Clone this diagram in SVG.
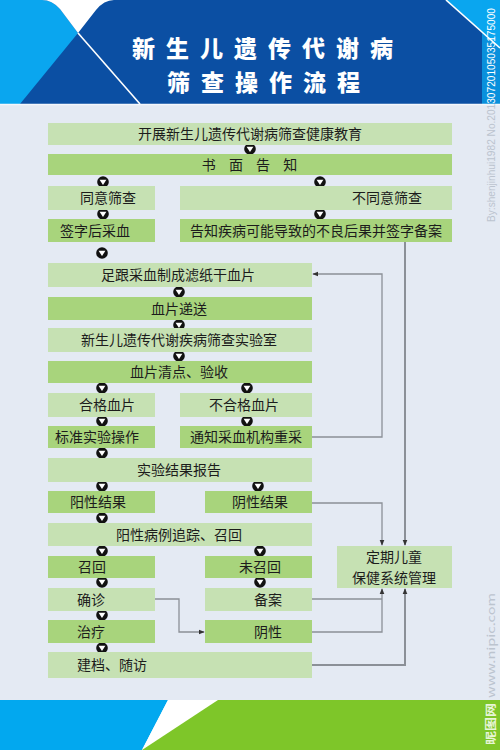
<svg xmlns="http://www.w3.org/2000/svg" xmlns:xlink="http://www.w3.org/1999/xlink" width="500" height="750" viewBox="0 0 500 750">
<style>
.lt{fill:#c6e1b3}
.dk{fill:#a8d47c}
.t{font-family:"Noto Sans CJK SC","Noto Sans",sans-serif;font-size:14px;fill:#1c1c1c;text-anchor:middle}
.ttl{font-family:"Noto Sans CJK SC","Noto Sans",sans-serif;font-size:23px;font-weight:900;fill:#ffffff;text-anchor:middle;letter-spacing:11px}
.ln{fill:none;stroke:#8b9097;stroke-width:1.3}
.lnw{fill:none;stroke:#8b9097;stroke-width:2}
.wm{font-family:"Liberation Sans","DejaVu Sans",sans-serif;font-size:10px}
</style>
<defs>
<g id="dn"><circle r="5.8" fill="#111"/><path d="M-3.4,-2.2 L3.4,-2.2 L0,3.1 Z" fill="#fff"/></g>
<marker id="ah" viewBox="0 0 8 8" refX="7" refY="4" markerWidth="6" markerHeight="6" markerUnits="userSpaceOnUse" orient="auto"><path d="M0,0.8 L8,4 L0,7.2 Z" fill="#333"/></marker>
<clipPath id="top"><rect x="0" y="0" width="500" height="104"/></clipPath>
<clipPath id="mid"><rect x="0" y="104" width="500" height="596"/></clipPath>
<clipPath id="bot"><rect x="0" y="700" width="500" height="50"/></clipPath>
</defs>

<!-- header -->
<g id="header">
<rect x="0" y="0" width="500" height="104" fill="#0b4fa3"/>
<path d="M0,0 H42 Q52,0 60,9 L78,33 L20,104 H0 Z" fill="#0aa6ef"/>
<path d="M42,0 Q52,0 60,9 L78,33 L96,10 Q104,0 114,0 Z" fill="#ffffff"/>
<line x1="78" y1="33" x2="140" y2="104" stroke="#ffffff" stroke-width="1.6"/>
<path d="M446,0 H500 V48 Z" fill="#0aa6ef"/>
<rect x="482" y="0" width="18" height="104" fill="#0aa6ef" opacity="0.75"/>
<line x1="446" y1="0" x2="500" y2="48" stroke="#ffffff" stroke-width="1.6"/>
<text class="ttl" x="268" y="56.5">新生儿遗传代谢病</text>
<text class="ttl" x="269" y="90.5">筛查操作流程</text>
</g>

<!-- body -->
<rect x="0" y="104" width="500" height="596" fill="#e4eaf3"/>
<line x1="0" y1="104.5" x2="500" y2="104.5" stroke="#f4f7fb" stroke-width="1.5"/>

<!-- footer -->
<g id="footer">
<path d="M0,700 H168 L142,750 H0 Z" fill="#02a8ef"/>
<path d="M168,700 H218 L142,750 Z" fill="#ffffff"/>
<path d="M218,700 H500 V750 H142 Z" fill="#7ec629"/>
</g>

<!-- connectors -->
<g id="connectors">
<path class="ln" d="M312,437 H382 V274 H313" marker-end="url(#ah)"/>
<path class="lnw" d="M405,242 V545" marker-end="url(#ah)"/>
<path class="ln" d="M312,503 H382 V545" marker-end="url(#ah)"/>
<path class="ln" d="M312,599 H382"/>
<path class="ln" d="M312,632 H382 V589" marker-end="url(#ah)"/>
<path class="lnw" d="M312,665 H405 V589" marker-end="url(#ah)"/>
<path class="ln" d="M155,599 H179 V632 H204" marker-end="url(#ah)"/>
<g id="flow-arrows">
<use xlink:href="#dn" x="250" y="149"/>
<use xlink:href="#dn" x="103" y="182"/>
<use xlink:href="#dn" x="320" y="182"/>
<use xlink:href="#dn" x="103" y="214"/>
<use xlink:href="#dn" x="320" y="214"/>
<use xlink:href="#dn" x="102" y="253"/>
<use xlink:href="#dn" x="179" y="292"/>
<use xlink:href="#dn" x="179" y="325"/>
<use xlink:href="#dn" x="179" y="356"/>
<use xlink:href="#dn" x="102" y="388"/>
<use xlink:href="#dn" x="247" y="388"/>
<use xlink:href="#dn" x="102" y="421"/>
<use xlink:href="#dn" x="247" y="421"/>
<use xlink:href="#dn" x="102" y="453"/>
<use xlink:href="#dn" x="102" y="486"/>
<use xlink:href="#dn" x="258" y="486"/>
<use xlink:href="#dn" x="102" y="518"/>
<use xlink:href="#dn" x="102" y="551"/>
<use xlink:href="#dn" x="260" y="551"/>
<use xlink:href="#dn" x="102" y="582"/>
<use xlink:href="#dn" x="260" y="582"/>
<use xlink:href="#dn" x="102" y="615"/>
<use xlink:href="#dn" x="102" y="648"/>
</g>
</g>

<!-- nodes -->
<g id="n1"><rect class="lt" x="48" y="123" width="404" height="22"/><text class="t" x="250" y="139">开展新生儿遗传代谢病筛查健康教育</text></g>
<g id="n2"><rect class="dk" x="48" y="154" width="404" height="21"/><text class="t" x="252" y="170" style="letter-spacing:5px">书 面 告 知</text></g>
<g id="n3"><rect class="lt" x="48" y="186" width="107" height="24"/><text class="t" x="108" y="203">同意筛查</text></g>
<g id="n4"><rect class="lt" x="180" y="186" width="272" height="24"/><text class="t" x="387" y="203">不同意筛查</text></g>
<g id="n5"><rect class="dk" x="48" y="219" width="107" height="23"/><text class="t" x="95" y="235.5">签字后采血</text></g>
<g id="n6"><rect class="dk" x="180" y="219" width="272" height="23"/><text class="t" x="316" y="235.5">告知疾病可能导致的不良后果并签字备案</text></g>
<g id="n7"><rect class="lt" x="48" y="263" width="264" height="24"/><text class="t" x="178" y="280">足跟采血制成滤纸干血片</text></g>
<g id="n8"><rect class="dk" x="48" y="297" width="264" height="23"/><text class="t" x="179" y="313.5">血片递送</text></g>
<g id="n9"><rect class="lt" x="48" y="328" width="264" height="24"/><text class="t" x="179" y="345">新生儿遗传代谢疾病筛查实验室</text></g>
<g id="n10"><rect class="dk" x="48" y="361" width="264" height="22"/><text class="t" x="179" y="377">血片清点、验收</text></g>
<g id="n11"><rect class="lt" x="48" y="393" width="107" height="24"/><text class="t" x="107" y="410">合格血片</text></g>
<g id="n12"><rect class="lt" x="180" y="393" width="132" height="24"/><text class="t" x="244" y="410">不合格血片</text></g>
<g id="n13"><rect class="dk" x="48" y="426" width="107" height="22"/><text class="t" x="97" y="442">标准实验操作</text></g>
<g id="n14"><rect class="dk" x="180" y="426" width="132" height="22"/><text class="t" x="246" y="442">通知采血机构重采</text></g>
<g id="n15"><rect class="lt" x="48" y="458" width="264" height="24"/><text class="t" x="179" y="475">实验结果报告</text></g>
<g id="n16"><rect class="dk" x="48" y="491" width="107" height="22"/><text class="t" x="98" y="507">阳性结果</text></g>
<g id="n17"><rect class="dk" x="205" y="491" width="107" height="22"/><text class="t" x="260" y="507">阴性结果</text></g>
<g id="n18"><rect class="lt" x="48" y="523" width="264" height="23"/><text class="t" x="179" y="539.5">阳性病例追踪、召回</text></g>
<g id="n19"><rect class="dk" x="48" y="556" width="107" height="22"/><text class="t" x="92" y="572">召回</text></g>
<g id="n20"><rect class="dk" x="205" y="556" width="107" height="22"/><text class="t" x="260" y="572">未召回</text></g>
<g id="n21"><rect class="lt" x="337" y="546" width="115" height="42"/><text class="t" x="394" y="562">定期儿童</text><text class="t" x="394" y="582.5">保健系统管理</text></g>
<g id="n22"><rect class="lt" x="48" y="588" width="107" height="23"/><text class="t" x="91" y="604.5">确诊</text></g>
<g id="n23"><rect class="lt" x="205" y="588" width="107" height="23"/><text class="t" x="268" y="604.5">备案</text></g>
<g id="n24"><rect class="dk" x="48" y="620" width="107" height="23"/><text class="t" x="91" y="636.5">治疗</text></g>
<g id="n25"><rect class="dk" x="205" y="620" width="107" height="23"/><text class="t" x="268" y="636.5">阴性</text></g>
<g id="n26"><rect class="lt" x="48" y="652" width="264" height="26"/><text class="t" x="112" y="670">建档、随访</text></g>

<!-- watermark -->
<g id="watermark">
<g clip-path="url(#top)"><text class="wm" fill="#ffffff" transform="translate(495,222) rotate(-90)" textLength="214" lengthAdjust="spacingAndGlyphs">By:shenjinhui1982 No.20130720105035175000</text></g>
<g clip-path="url(#mid)"><text class="wm" fill="#bcc4cf" transform="translate(495,222) rotate(-90)" textLength="214" lengthAdjust="spacingAndGlyphs">By:shenjinhui1982 No.20130720105035175000</text></g>
<g clip-path="url(#mid)"><text class="wm" style="font-family:'Noto Sans CJK SC','Liberation Sans',sans-serif;font-size:11px" fill="#bcc4cf" transform="translate(495,745) rotate(-90)" textLength="152" lengthAdjust="spacingAndGlyphs">昵图网 www.nipic.com</text></g>
<g clip-path="url(#bot)"><text class="wm" style="font-family:'Noto Sans CJK SC','Liberation Sans',sans-serif;font-size:11px;font-weight:bold" fill="#e8f5d8" transform="translate(495,745) rotate(-90)" textLength="152" lengthAdjust="spacingAndGlyphs">昵图网 www.nipic.com</text></g>
</g>
</svg>
